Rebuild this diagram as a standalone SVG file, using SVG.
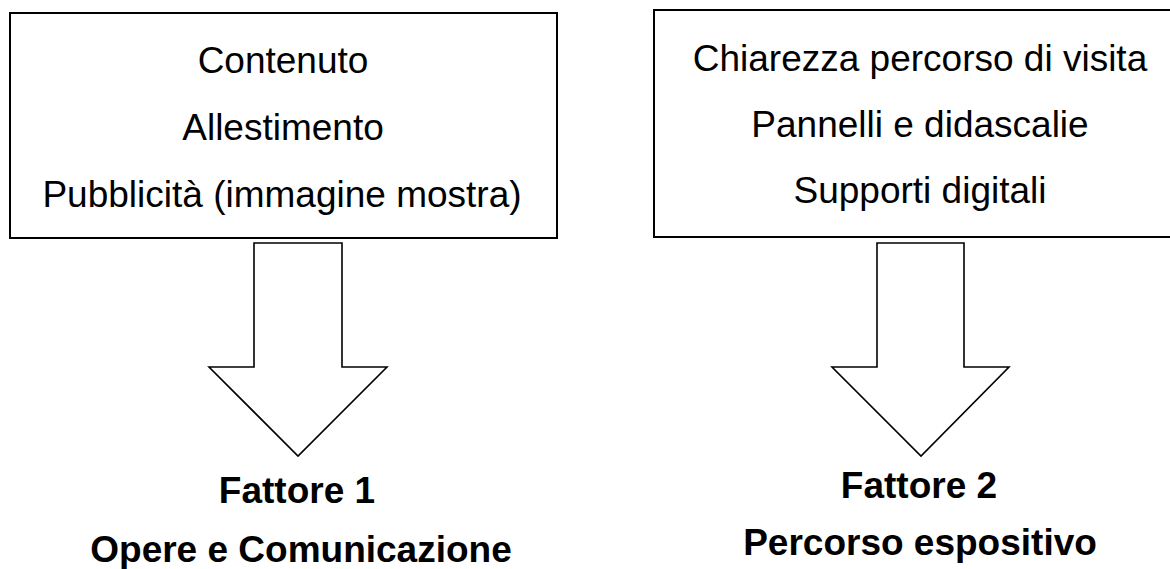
<svg xmlns="http://www.w3.org/2000/svg" width="1170" height="569" viewBox="0 0 1170 569">
<style>
.box{fill:#fff;stroke:#000;stroke-width:2}
.arrow{fill:#fff;stroke:#000;stroke-width:1.6;stroke-linejoin:miter}
.t{font-family:"Liberation Sans",Arial,sans-serif;font-size:37px;fill:#000;text-anchor:middle}
.b{font-family:"Liberation Sans",Arial,sans-serif;font-size:37px;font-weight:bold;fill:#000;text-anchor:middle}
</style>
<rect width="1170" height="569" fill="#fff"/>
<g id="box1">
<rect class="box" x="10" y="13" width="547" height="225"/>
<text class="t" x="283" y="73">Contenuto</text>
<text class="t" x="283" y="140">Allestimento</text>
<text class="t" x="282" y="207">Pubblicità (immagine mostra)</text>
</g>
<g id="box2">
<rect class="box" x="654" y="10" width="520" height="227"/>
<text class="t" x="920" y="71">Chiarezza percorso di visita</text>
<text class="t" x="920" y="137">Pannelli e didascalie</text>
<text class="t" x="920" y="203">Supporti digitali</text>
</g>
<g id="connectors">
<polygon class="arrow" points="254,243 342,243 342,367 387,367 298,456 209,367 254,367"/>
<polygon class="arrow" points="877,243 964,243 964,367 1009,367 921,456 832,367 877,367"/>
</g>
<g id="factor1">
<text class="b" x="297" y="503">Fattore 1</text>
<text class="b" x="301" y="562">Opere e Comunicazione</text>
</g>
<g id="factor2">
<text class="b" x="919" y="498">Fattore 2</text>
<text class="b" x="920" y="555">Percorso espositivo</text>
</g>
</svg>
